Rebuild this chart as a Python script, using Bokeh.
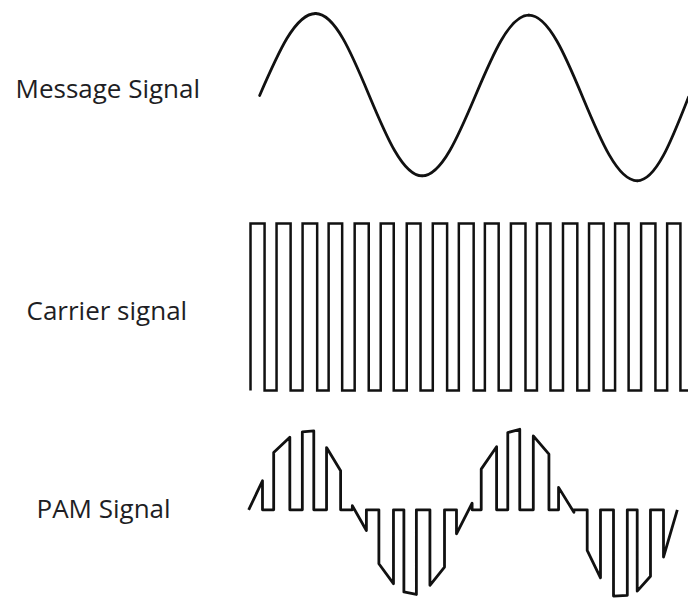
from bokeh.plotting import figure
from bokeh.layouts import column
from bokeh.models import Range1d, Label
from bokeh.embed import file_html
from bokeh.resources import INLINE

# ---------------- data (time in carrier periods) ----------------
# Message signal: zero crossing, extrema, zero crossing
msg_t = [0.35, 2.50, 6.59, 10.69, 14.85, 16.82]
msg_v = [0.00, 1.00, -0.98, 0.98, -1.04, -0.02]
msg_kind = ["zero", "peak", "peak", "peak", "peak", "zero"]

# Carrier square wave: rising and falling edge times, levels 0/1
car_rise = [0, 1, 2, 3, 4, 5, 6, 7, 8, 9, 10, 11, 12, 13, 14, 15, 16, 17]
car_fall = [0.54, 1.54, 2.56, 3.52, 4.54, 5.50, 6.53, 7.55, 8.57, 9.53,
            10.56, 11.52, 12.55, 13.56, 14.52, 15.55, 16.51, 17.53]

# PAM (natural sampling): pulse start/end times and top levels at start/end
pam_start = [-0.07, 0.89, 1.99, 2.92, 3.91, 4.93, 5.89, 6.89, 7.91,
             8.86, 9.88, 10.86, 11.83, 12.93, 13.94, 14.85, 15.86]
pam_end = [0.46, 1.51, 2.43, 3.46, 4.45, 5.49, 6.37, 7.45, 8.51,
           9.45, 10.34, 11.46, 12.42, 13.44, 14.47, 15.36, 16.39]
pam_top_a = [0.00, 0.69, 0.94, 0.75, 0.05, -0.65, -0.99, -0.91, -0.29,
             0.49, 0.93, 0.89, 0.27, -0.49, -1.04, -0.98, -0.57]
pam_top_b = [0.35, 0.875, 0.95, 0.47, -0.25, -0.89, -1.02, -0.69, 0.08,
             0.76, 0.97, 0.67, -0.03, -0.82, -1.03, -0.80, 0.00]

labels = ["Message Signal", "Carrier signal", "PAM Signal"]

# ---------------- layout ----------------
W = 688
FONT = "Open Sans"
FONT_SIZE = "26px"
TXT = "#1e1e24"
INK = "#111111"

xr = Range1d(-9.601, 16.820)


def make_fig(h, y0, y1):
    p = figure(width=W, height=h, x_range=xr, y_range=Range1d(y0, y1),
               toolbar_location=None, output_backend="svg", min_border=0,
               x_axis_location=None, y_axis_location=None)
    p.grid.visible = False
    p.outline_line_color = None
    p.background_fill_color = "white"
    p.border_fill_color = "white"
    return p


# Message signal panel
p1 = make_fig(200, -1.2805, 1.1585)
HALF = 0.3634
QZ = 0.3343
QY = 0.5251
bx0, by0, bx1, by1, cx0, cy0, cx1, cy1 = [], [], [], [], [], [], [], []
for i in range(len(msg_t) - 1):
    x0, y0, x1, y1 = msg_t[i], msg_v[i], msg_t[i + 1], msg_v[i + 1]
    dx = x1 - x0
    if msg_kind[i] == "zero":
        c0 = (x0 + QZ * dx, y0 + QY * (y1 - y0))
    else:
        c0 = (x0 + HALF * dx, y0)
    if msg_kind[i + 1] == "zero":
        c1 = (x1 - QZ * dx, y1 - QY * (y1 - y0))
    else:
        c1 = (x1 - HALF * dx, y1)
    bx0.append(x0); by0.append(y0); bx1.append(x1); by1.append(y1)
    cx0.append(c0[0]); cy0.append(c0[1]); cx1.append(c1[0]); cy1.append(c1[1])
p1.bezier(x0=bx0, y0=by0, x1=bx1, y1=by1, cx0=cx0, cy0=cy0, cx1=cx1, cy1=cy1,
          line_color=INK, line_width=2.8, line_cap="round")
p1.add_layout(Label(x=15, y=112.7, x_units="screen", y_units="screen",
                    text=labels[0], text_font=FONT, text_font_size=FONT_SIZE,
                    text_color=TXT, text_baseline="alphabetic"))

# Carrier panel
p2 = make_fig(205, -0.0898, 1.1377)
cxs, cys = [], []
for r, f in zip(car_rise, car_fall):
    cxs += [r, r, f, f]
    cys += [0, 1, 1, 0]
p2.line(cxs, cys, line_color=INK, line_width=2.5, line_join="miter")
p2.add_layout(Label(x=26, y=96, x_units="screen", y_units="screen",
                    text=labels[1], text_font=FONT, text_font_size=FONT_SIZE,
                    text_color=TXT, text_baseline="alphabetic"))

# PAM panel
p3 = make_fig(196, -1.1048, 1.2566)
pxs, pys = [], []
for s, e, a, b in zip(pam_start, pam_end, pam_top_a, pam_top_b):
    pxs += [s, s, e, e]
    pys += [0, a, b, 0]
p3.line(pxs, pys, line_color=INK, line_width=2.8, line_join="round")
p3.add_layout(Label(x=36, y=93.7, x_units="screen", y_units="screen",
                    text=labels[2], text_font=FONT, text_font_size=FONT_SIZE,
                    text_color=TXT, text_baseline="alphabetic"))

layout = column(p1, p2, p3, spacing=0)
open("out.html", "w").write(file_html(layout, INLINE))
